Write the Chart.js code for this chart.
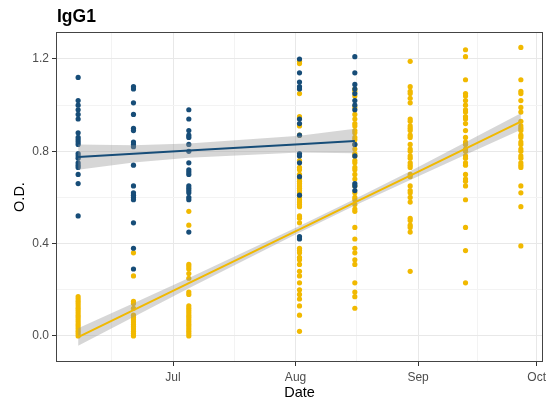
<!DOCTYPE html>
<html>
<head>
<meta charset="utf-8">
<script src="https://cdn.jsdelivr.net/npm/chart.js@4.4.1/dist/chart.umd.min.js"></script>
<style>
  html, body { margin: 0; padding: 0; background: #fff; }
</style>
</head>
<body>
<canvas id="igg1Chart" width="547" height="402"></canvas>
<script>
// sampling dates (one column of dots per date)
var sampleDates = ['2021-06-07', '2021-06-21', '2021-07-05', '2021-08-02', '2021-08-16', '2021-08-30', '2021-09-13', '2021-09-27'];

// O.D. readings, one list per sampling date
var blueOD = [
  [1.12, 1.02, 1.00, 0.98, 0.96, 0.94, 0.88, 0.86, 0.85, 0.84, 0.83, 0.79, 0.78, 0.77, 0.75, 0.74, 0.73, 0.70, 0.66, 0.52],
  [1.08, 1.07, 1.01, 0.96, 0.90, 0.89, 0.84, 0.83, 0.82, 0.74, 0.65, 0.62, 0.61, 0.60, 0.59, 0.49, 0.38, 0.29],
  [0.98, 0.94, 0.89, 0.87, 0.86, 0.83, 0.80, 0.75, 0.72, 0.71, 0.70, 0.65, 0.64, 0.63, 0.62, 0.60, 0.59, 0.45],
  [1.20, 1.14, 1.10, 1.08, 1.07, 0.94, 0.92, 0.87, 0.79, 0.78, 0.75, 0.69, 0.61, 0.43, 0.42],
  [1.21, 1.14, 1.09, 1.07, 1.05, 1.02, 1.00, 0.98, 0.83, 0.78, 0.66, 0.65, 0.63],
  [],
  [],
  []
];
var yellowOD = [
  [0.17, 0.16, 0.15, 0.14, 0.13, 0.12, 0.11, 0.10, 0.09, 0.08, 0.07, 0.06, 0.05, 0.04, 0.03, 0.02, 0.01, 0.00],
  [0.36, 0.26, 0.15, 0.14, 0.12, 0.09, 0.08, 0.07, 0.06, 0.05, 0.04, 0.03, 0.02, 0.01, 0.00],
  [0.54, 0.48, 0.31, 0.30, 0.29, 0.27, 0.25, 0.19, 0.18, 0.13, 0.12, 0.11, 0.10, 0.09, 0.08, 0.07, 0.06, 0.05, 0.04, 0.03, 0.02, 0.01, 0.00],
  [1.19, 1.18, 1.05, 0.95, 0.91, 0.87, 0.76, 0.73, 0.72, 0.70, 0.68, 0.67, 0.66, 0.65, 0.64, 0.63, 0.62, 0.60, 0.59, 0.58, 0.57, 0.56, 0.52, 0.51, 0.49, 0.38, 0.37, 0.36, 0.34, 0.33, 0.31, 0.28, 0.26, 0.23, 0.20, 0.18, 0.16, 0.13, 0.09, 0.02],
  [1.07, 1.06, 1.04, 0.99, 0.96, 0.94, 0.92, 0.91, 0.89, 0.88, 0.86, 0.85, 0.83, 0.81, 0.79, 0.78, 0.76, 0.75, 0.73, 0.72, 0.70, 0.68, 0.65, 0.62, 0.60, 0.59, 0.57, 0.55, 0.54, 0.47, 0.42, 0.38, 0.36, 0.33, 0.31, 0.23, 0.19, 0.17, 0.12],
  [1.19, 1.08, 1.06, 1.05, 1.03, 1.01, 0.94, 0.93, 0.91, 0.90, 0.89, 0.87, 0.86, 0.83, 0.81, 0.80, 0.78, 0.77, 0.75, 0.74, 0.73, 0.70, 0.69, 0.65, 0.63, 0.62, 0.60, 0.58, 0.51, 0.50, 0.48, 0.47, 0.45, 0.28],
  [1.24, 1.21, 1.11, 1.05, 1.04, 1.02, 1.00, 0.98, 0.97, 0.95, 0.94, 0.92, 0.89, 0.86, 0.84, 0.83, 0.81, 0.80, 0.78, 0.77, 0.75, 0.74, 0.70, 0.68, 0.67, 0.65, 0.59, 0.47, 0.37, 0.23],
  [1.25, 1.11, 1.06, 1.05, 1.02, 0.99, 0.97, 0.93, 0.91, 0.90, 0.89, 0.87, 0.86, 0.84, 0.83, 0.81, 0.80, 0.78, 0.77, 0.75, 0.74, 0.73, 0.65, 0.62, 0.56, 0.39]
];

// linear fits and 95% bands (blue stops at Aug 16)
var blueFit = [0.775, 0.789, 0.803, 0.831, 0.845];
var blueLo  = [0.720, 0.752, 0.772, 0.795, 0.792];
var blueHi  = [0.830, 0.826, 0.834, 0.867, 0.898];
var yellowFit = [-0.005, 0.112, 0.229, 0.462, 0.579, 0.695, 0.812, 0.929];
var yellowLo  = [-0.043, 0.082, 0.207, 0.448, 0.565, 0.676, 0.785, 0.893];
var yellowHi  = [0.033, 0.142, 0.251, 0.476, 0.593, 0.714, 0.839, 0.965];

// axis ticks
var xTickDates = ['2021-07-01', '2021-08-01', '2021-09-01', '2021-10-01'];
var xTickLabels = ['Jul', 'Aug', 'Sep', 'Oct'];
var yTickValues = [0, 0.4, 0.8, 1.2];
var yTickLabels = ['0.0', '0.4', '0.8', '1.2'];

var chartTitle = 'IgG1';
var blueCol = '#174D78';
var yellowCol = '#F1B900';
var fontFam = '"Liberation Sans", Arial, sans-serif';

function day(s) { return Date.parse(s) / 86400000; }

function pointsFor(groups) {
  var pts = [];
  groups.forEach(function(vals, i) {
    vals.forEach(function(v) { pts.push({x: day(sampleDates[i]), y: v}); });
  });
  return pts;
}
function lineFor(vals) {
  return vals.map(function(v, i) { return {x: day(sampleDates[i]), y: v}; });
}

// x range with ggplot-style 5% expansion
var d0 = day(sampleDates[0]), d1 = day(sampleDates[sampleDates.length - 1]);
var xMin = d0 - 0.05 * (d1 - d0), xMax = d1 + 0.05 * (d1 - d0);

// major ticks plus minor breaks halfway between them
var xMajor = xTickDates.map(day);
var xTicks = [];
xTicks.push({value: xMajor[0] - (xMajor[1] - xMajor[0]) / 2, minor: true});
xMajor.forEach(function(d, i) {
  xTicks.push({value: d, minor: false, text: xTickLabels[i]});
  if (i < xMajor.length - 1) xTicks.push({value: (d + xMajor[i + 1]) / 2, minor: true});
});
xTicks = xTicks.filter(function(t) { return t.value >= xMin && t.value <= xMax; });

var yTicks = [];
yTickValues.forEach(function(v, i) {
  yTicks.push({value: v, minor: false, text: yTickLabels[i]});
  if (i < yTickValues.length - 1) yTicks.push({value: (v + yTickValues[i + 1]) / 2, minor: true});
});

var panelPlugin = {
  id: 'panelDecor',
  afterDraw: function(chart) {
    var c = chart.ctx, a = chart.chartArea;
    c.save();
    c.strokeStyle = '#444';
    c.lineWidth = 1;
    c.strokeRect(a.left + 0.5, a.top + 0.5, a.right - a.left - 1, a.bottom - a.top - 1);
    c.fillStyle = '#000';
    c.font = 'bold 17.5px ' + fontFam;
    c.textBaseline = 'alphabetic';
    c.fillText(chartTitle, a.left + 1, 22);
    c.restore();
  }
};

function gridColor(ctx) { return ctx.tick && ctx.tick.minor ? '#F3F3F3' : '#E8E8E8'; }
function tickColor(ctx) { return ctx.tick && ctx.tick.minor ? 'rgba(0,0,0,0)' : '#333'; }

var ctx = document.getElementById('igg1Chart').getContext('2d');
var chart = new Chart(ctx, {
  type: 'scatter',
  data: {
    datasets: [
      { type: 'line', data: lineFor(yellowFit), borderColor: yellowCol, borderWidth: 2, pointRadius: 0, fill: false, order: 0 },
      { type: 'line', data: lineFor(blueFit), borderColor: blueCol, borderWidth: 2, pointRadius: 0, fill: false, order: 0 },
      { type: 'line', data: lineFor(yellowLo), borderColor: 'rgba(0,0,0,0)', borderWidth: 0, pointRadius: 0, fill: false, order: 1 },
      { type: 'line', data: lineFor(yellowHi), borderColor: 'rgba(0,0,0,0)', borderWidth: 0, pointRadius: 0, fill: '-1', backgroundColor: 'rgba(153,153,153,0.4)', order: 1 },
      { type: 'line', data: lineFor(blueLo), borderColor: 'rgba(0,0,0,0)', borderWidth: 0, pointRadius: 0, fill: false, order: 1 },
      { type: 'line', data: lineFor(blueHi), borderColor: 'rgba(0,0,0,0)', borderWidth: 0, pointRadius: 0, fill: '-1', backgroundColor: 'rgba(153,153,153,0.4)', order: 1 },
      { data: pointsFor(blueOD), backgroundColor: blueCol, borderWidth: 0, pointRadius: 2.6, order: 2 },
      { data: pointsFor(yellowOD), backgroundColor: yellowCol, borderWidth: 0, pointRadius: 2.6, order: 3 }
    ]
  },
  options: {
    responsive: false,
    animation: false,
    events: [],
    layout: { padding: { top: 32, right: 2, left: 0, bottom: 0 } },
    plugins: {
      legend: { display: false },
      tooltip: { enabled: false }
    },
    scales: {
      x: {
        type: 'linear',
        min: xMin,
        max: xMax,
        afterBuildTicks: function(scale) { scale.ticks = xTicks.map(function(t) { return Object.assign({}, t); }); },
        afterFit: function(scale) { scale.height = 40; scale.paddingLeft = 0; scale.paddingRight = 0; },
        border: { display: false },
        grid: { color: gridColor, lineWidth: 1, tickLength: 4, tickColor: tickColor, tickWidth: 1 },
        ticks: {
          autoSkip: false, maxRotation: 0, minRotation: 0, padding: 4,
          color: '#4D4D4D', font: { family: fontFam, size: 12 },
          callback: function(v, i, ticks) { return ticks[i].minor ? '' : ticks[i].text; }
        },
        title: { display: true, text: 'Date', color: '#000', font: { family: fontFam, size: 14.5 }, padding: { top: 0, bottom: 0 } }
      },
      y: {
        type: 'linear',
        min: -0.113,
        max: 1.317,
        afterBuildTicks: function(scale) { scale.ticks = yTicks.map(function(t) { return Object.assign({}, t); }); },
        afterFit: function(scale) { scale.width = 56; scale.paddingTop = 0; scale.paddingBottom = 0; },
        border: { display: false },
        grid: { color: gridColor, lineWidth: 1, tickLength: 4, tickColor: tickColor, tickWidth: 1 },
        ticks: {
          autoSkip: false, padding: 3,
          color: '#4D4D4D', font: { family: fontFam, size: 12 },
          callback: function(v, i, ticks) { return ticks[i].minor ? '' : ticks[i].text; }
        },
        title: { display: true, text: 'O.D.', color: '#000', font: { family: fontFam, size: 14.5 }, padding: { top: 11, bottom: 0 } }
      }
    }
  },
  plugins: [panelPlugin]
});
</script>
</body>
</html>
